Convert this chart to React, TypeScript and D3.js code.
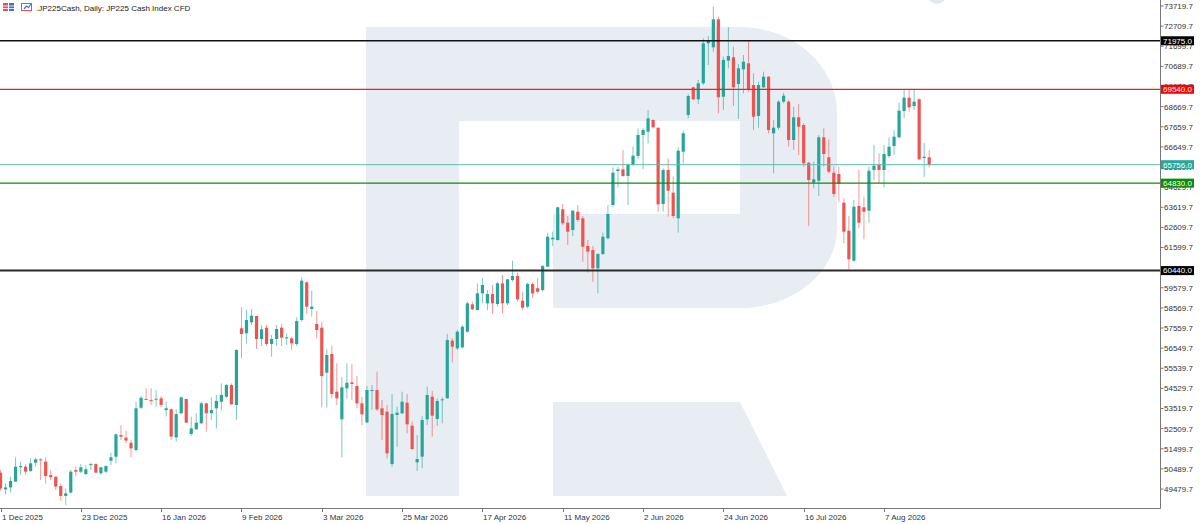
import React from 'react';
import * as d3 from 'd3';

const W = 1200;
const H = 524;

// Daily OHLC of .JP225Cash, 1 Dec 2025 .. ~21 Aug 2026
const opens = [
  50300, 49460, 49560, 49850, 50570, 50600, 50380, 50800, 50970, 50850,
  50180, 50100, 49630, 49130, 49300, 50430, 50350, 50230, 50680, 50730,
  50270, 50350, 50900, 51100, 52190, 52060, 51800, 51440, 53560, 54000,
  53950, 53990, 54030, 53440, 53480, 52070, 53280, 54000, 52240, 52480,
  52780, 53780, 53280, 53530, 53860, 54110, 54700, 53695, 57543, 57292,
  57844, 58162, 57008, 57577, 56757, 57008, 57577, 57041, 57041, 56757,
  57962, 59852, 58514, 57761, 57577, 55318, 56255, 54364, 52976, 54532,
  54833, 54649, 53779, 52825, 54398, 54448, 53528, 53361, 50734, 53194,
  53277, 53812, 52658, 50818, 51102, 52976, 54114, 52993, 53930, 54030,
  56924, 56539, 56589, 57375, 58747, 58462, 59298, 58797, 59265, 58764,
  59803, 58799, 59969, 60170, 58930, 58629, 59768, 59553, 59467, 60636,
  62012, 61976, 63517, 62845, 62478, 63397, 63065, 61675, 61474, 60556,
  61274, 62062, 63733, 65439, 65524, 65188, 65740, 66192, 67246, 67412,
  67998, 67612, 63783, 65489, 64350, 63065, 66408, 68250, 69640, 69037,
  69840, 71848, 71647, 73052, 69168, 70975, 71145, 69805, 70543, 70844,
  69755, 68199, 69640, 70172, 67331, 67612, 68917, 68917, 66995, 68134,
  67747, 65856, 64852, 64952, 67130, 66127, 65354, 65288, 63848, 62443,
  60937, 63682, 63617, 63447, 65489, 65740, 65489, 66192, 66694, 67130,
  68450, 69118, 68701, 69037, 66091, 66127,
];
const highs = [
  50430, 49760, 50100, 51070, 50850, 50720, 51020, 51050, 51020, 51070,
  50430, 50100, 49760, 49510, 50430, 50600, 50730, 50680, 50800, 50770,
  50600, 50680, 51300, 52270, 52690, 52410, 51940, 53860, 54150, 54530,
  54530, 54450, 54150, 53860, 53530, 53480, 54110, 54000, 53110, 53280,
  53860, 53810, 54080, 54200, 54780, 54750, 54780, 56490, 58597, 58463,
  58497, 58180, 57711, 57711, 57209, 57711, 57761, 57292, 57125, 58095,
  60103, 59886, 59434, 58413, 57878, 56489, 56657, 55787, 55084, 55787,
  55753, 55151, 54114, 54649, 54699, 55368, 53946, 53695, 54247, 53612,
  54364, 54247, 52859, 52190, 53144, 54616, 54398, 54030, 54080, 57259,
  57041, 57460, 57710, 58881, 58881, 59800, 60051, 59466, 59717, 59868,
  60220, 60004, 60937, 60335, 59380, 59834, 59834, 60054, 60722, 62343,
  62393, 63647, 63783, 63181, 63482, 63733, 63181, 61976, 61675, 61309,
  62343, 63733, 65625, 65655, 66493, 65825, 66659, 67582, 67582, 68500,
  68033, 67612, 65575, 66076, 65153, 66629, 67462, 69303, 69670, 70006,
  72099, 72214, 73685, 73183, 71175, 72651, 71677, 70809, 71261, 72013,
  70342, 69921, 70423, 70207, 67998, 69002, 69369, 69002, 68666, 68801,
  67833, 65906, 65906, 67246, 67582, 67030, 65655, 65655, 64069, 63181,
  63984, 65489, 64150, 65655, 66744, 66327, 66744, 67130, 67497, 68867,
  69539, 69539, 69504, 69088, 66859, 66493,
];
const lows = [
  49400, 49230, 49300, 49850, 50180, 50180, 50350, 50600, 49930, 49760,
  49930, 49430, 48890, 48680, 49260, 50130, 50270, 50180, 50430, 50270,
  50180, 50270, 50680, 50770, 51940, 51770, 51070, 51350, 53480, 53950,
  53700, 53610, 53610, 53110, 51940, 51860, 53230, 52780, 52140, 52440,
  52740, 52360, 52940, 52520, 53440, 54030, 53700, 52943, 56038, 56790,
  57711, 56506, 56657, 56657, 56121, 56657, 56657, 56707, 56456, 56657,
  57878, 58263, 58129, 57041, 53578, 53578, 54030, 53695, 51069, 54030,
  53946, 53528, 52692, 52775, 53444, 53411, 51939, 51018, 50600, 51604,
  53244, 52273, 51437, 50383, 50517, 52692, 52106, 52641, 52775, 54030,
  55830, 56456, 56539, 57325, 58462, 58428, 58797, 58462, 58262, 58629,
  58298, 58714, 59884, 58880, 58460, 58549, 59050, 59301, 59382, 60636,
  61675, 61941, 62729, 61725, 62177, 62895, 60887, 60335, 59884, 59301,
  61224, 62012, 63647, 64621, 65153, 63733, 65690, 66026, 65524, 66829,
  67582, 63397, 63397, 63146, 63065, 62343, 65825, 68084, 69002, 68801,
  69755, 70759, 71426, 68335, 68500, 70593, 68701, 68049, 69339, 69419,
  67497, 67612, 69590, 67331, 65324, 67497, 68836, 66659, 66493, 66242,
  65655, 62679, 64571, 64184, 65655, 65324, 64150, 63899, 61811, 60505,
  60887, 62563, 62012, 62844, 64987, 64822, 64621, 66076, 66242, 67080,
  68084, 68415, 68500, 65991, 65123, 65625,
];
const closes = [
  49510, 49560, 49880, 50600, 50630, 50350, 50770, 50970, 50930, 50130,
  50070, 49600, 49130, 49260, 50350, 50350, 50570, 50470, 50730, 50300,
  50570, 50630, 51070, 52220, 52110, 51910, 51520, 53530, 54060, 53950,
  53900, 54010, 53700, 53530, 52110, 53240, 54080, 52810, 52520, 52810,
  53780, 53280, 53440, 53900, 54200, 54700, 53730, 56456, 57259, 57962,
  58179, 57008, 57493, 56757, 57008, 57510, 57075, 57092, 56790, 57911,
  59936, 58631, 58631, 57460, 55151, 56205, 54247, 54030, 54582, 54816,
  54749, 53779, 53227, 54448, 54448, 53478, 53194, 51270, 53244, 53311,
  53863, 52725, 51487, 50985, 52943, 54197, 53160, 53896, 53980, 56958,
  56623, 57376, 57626, 58797, 58496, 59298, 59717, 59265, 58797, 59803,
  58799, 60004, 60170, 58999, 58579, 59768, 59301, 59382, 60671, 62142,
  62092, 63617, 62814, 62393, 63447, 62980, 61640, 61389, 60556, 61274,
  62142, 63281, 65354, 65524, 65188, 65740, 66207, 67246, 67497, 68084,
  67632, 63768, 65489, 64450, 63181, 66458, 67332, 69203, 69037, 69840,
  71848, 72013, 73052, 69138, 71010, 71210, 69640, 70593, 70924, 69504,
  68164, 69755, 70172, 67497, 67612, 68917, 69218, 66995, 68134, 67662,
  65825, 64987, 65022, 67130, 66292, 65404, 64285, 64787, 62393, 61008,
  63647, 62844, 63397, 65454, 65705, 65489, 66292, 66659, 67161, 68465,
  69118, 68636, 68917, 66026, 66157, 65756,
];

const dateLabels = [
  '1 Dec 2025', '23 Dec 2025', '16 Jan 2026', '9 Feb 2026', '3 Mar 2026', '25 Mar 2026',
  '17 Apr 2026', '11 May 2026', '2 Jun 2026', '24 Jun 2026', '16 Jul 2026', '7 Aug 2026',
];
const dateLabelIndex = [0, 16, 32, 48, 64, 80, 96, 112, 128, 144, 160, 176];

const priceTicks = [
  73719.7, 72709.7, 71699.7, 70689.7, 69679.7, 68669.7, 67659.7, 66649.7, 65639.7,
  64629.7, 63619.7, 62609.7, 61599.7, 60589.7, 59579.7, 58569.7, 57559.7, 56549.7,
  55539.7, 54529.7, 53519.7, 52509.7, 51499.7, 50489.7, 49479.7,
];

const levelPrices = [71975.0, 69540.0, 65756.0, 64830.0, 60440.0];

const title = '.JP225Cash, Daily:  JP225 Cash Index CFD';

// styles (kept apart from data)
const levelStyle = [
  { line: '#111111', width: 1.5, box: '#000000' },
  { line: '#ff1a1a', width: 1.3, box: '#ff0000' },
  { line: '#5fbcae', width: 1, box: '#2aa79a' },
  { line: '#118a11', width: 1.3, box: '#0b8a0b' },
  { line: '#2a2a2a', width: 2, box: '#000000' },
];
const UP = '#26a69a';
const DOWN = '#ef5350';
const FONT = '"Liberation Sans", Arial, sans-serif';
const PLOT_R = 1160.5;
const PLOT_B = 508.5;

export default function App() {
  const n = opens.length;
  const x = d3.scaleLinear().domain([0, n - 1]).range([0.5, 929.2]);
  const y = d3.scaleLinear().domain([49479.7, 73719.7]).range([489, 6]);
  const bw = 3.2;

  return (
    <svg
      width={W}
      height={H}
      viewBox={`0 0 ${W} ${H}`}
      style={{ position: 'absolute', left: 0, top: 0, background: '#fff' }}
    >
      <defs>
        <clipPath id="plot">
          <rect x={0} y={0} width={PLOT_R} height={PLOT_B} />
        </clipPath>
      </defs>
      <rect x={0} y={0} width={W} height={H} fill="#ffffff" />

      {/* watermark logo */}
      <g fill="#e8ecf3" clipPath="url(#plot)">
        <rect x={366} y={27} width={93} height={469} />
        <path d="M366,27 H740 A97,86 0 0 1 837,113 V228 A97,80 0 0 1 740,308 H553 V214 H740 V121 H366 Z" />
        <path d="M553,402 H740 L787,496 H553 Z" />
        <circle cx={937} cy={-5} r={9} fill="#e3e7ee" />
      </g>

      {/* candles */}
      <g clipPath="url(#plot)">
        {opens.map((o, i) => {
          const c = closes[i];
          const up = c >= o;
          const col = up ? UP : DOWN;
          const cx = x(i);
          const top = y(Math.max(o, c));
          const bot = y(Math.min(o, c));
          return (
            <g key={i}>
              <line
                x1={cx}
                x2={cx}
                y1={y(highs[i])}
                y2={y(lows[i])}
                stroke={col}
                strokeOpacity={0.6}
                strokeWidth={1}
              />
              <rect
                x={cx - bw / 2}
                y={top}
                width={bw}
                height={Math.max(1, bot - top)}
                fill={col}
              />
            </g>
          );
        })}
      </g>

      {/* horizontal levels */}
      <g>
        {levelPrices.map((p, i) => (
          <line
            key={i}
            x1={0}
            x2={PLOT_R}
            y1={y(p)}
            y2={y(p)}
            stroke={levelStyle[i].line}
            strokeWidth={levelStyle[i].width}
          />
        ))}
      </g>

      {/* axes frame */}
      <line x1={PLOT_R} x2={PLOT_R} y1={0} y2={PLOT_B} stroke="#777" strokeWidth={1} />
      <line x1={0} x2={PLOT_R} y1={PLOT_B} y2={PLOT_B} stroke="#777" strokeWidth={1} />

      {/* price ticks */}
      <g fontFamily={FONT} fontSize={8} fill="#333">
        {priceTicks.map((v, i) => (
          <g key={i}>
            <line x1={PLOT_R} x2={PLOT_R + 3} y1={y(v)} y2={y(v)} stroke="#777" />
            <text x={PLOT_R + 3.5} y={y(v)} dy="0.36em">
              {v.toFixed(1)}
            </text>
          </g>
        ))}
      </g>

      {/* level boxes */}
      <g fontFamily={FONT} fontSize={8}>
        {levelPrices.map((p, i) => (
          <g key={i}>
            <rect x={PLOT_R + 0.5} y={y(p) - 4.5} width={33} height={9} fill={levelStyle[i].box} />
            <text x={PLOT_R + 2.5} y={y(p)} dy="0.36em" fill="#fff">
              {p.toFixed(1)}
            </text>
          </g>
        ))}
      </g>

      {/* date ticks */}
      <g fontFamily={FONT} fontSize={8} fill="#333">
        {dateLabels.map((d, i) => {
          const tx = Math.round(x(dateLabelIndex[i])) + 0.5;
          return (
            <g key={i}>
              <line x1={tx} x2={tx} y1={PLOT_B} y2={PLOT_B + 3.5} stroke="#777" />
              <text x={tx + 0.5} y={519.5}>
                {d}
              </text>
            </g>
          );
        })}
      </g>

      {/* title with icons */}
      <g>
        <rect x={3} y={3} width={5} height={8} fill="#e9505a" />
        <rect x={9} y={3} width={5} height={8} fill="#3f74d6" />
        <line x1={3} x2={14} y1={6} y2={6} stroke="#fff" strokeWidth={0.8} />
        <line x1={3} x2={14} y1={8.5} y2={8.5} stroke="#fff" strokeWidth={0.8} />
        <rect x={21.5} y={3.5} width={10} height={7} fill="none" stroke="#e9505a" strokeWidth={1} />
        <path d="M24,9 L26.5,6 L28.5,7.5 L31,4" fill="none" stroke="#3f74d6" strokeWidth={1.2} />
        <text x={36} y={11} fontFamily={FONT} fontSize={8} fill="#222">
          {title}
        </text>
      </g>
    </svg>
  );
}
